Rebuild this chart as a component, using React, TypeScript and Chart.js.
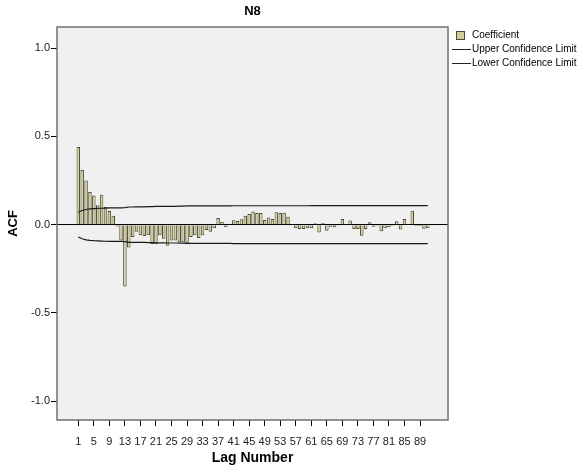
import { useEffect, useRef } from "react";
import { Chart, registerables } from "chart.js";

Chart.register(...registerables);

const lags = [
  1, 2, 3, 4, 5, 6, 7, 8, 9, 10, 11, 12, 13, 14, 15, 16, 17, 18, 19, 20,
  21, 22, 23, 24, 25, 26, 27, 28, 29, 30, 31, 32, 33, 34, 35, 36, 37, 38, 39, 40,
  41, 42, 43, 44, 45, 46, 47, 48, 49, 50, 51, 52, 53, 54, 55, 56, 57, 58, 59, 60,
  61, 62, 63, 64, 65, 66, 67, 68, 69, 70, 71, 72, 73, 74, 75, 76, 77, 78, 79, 80,
  81, 82, 83, 84, 85, 86, 87, 88, 89, 90, 91,
];

const coefficient = [
  0.44, 0.31, 0.25, 0.185, 0.165, 0.11, 0.17, 0.1, 0.077, 0.05,
  -0.01, -0.09, -0.35, -0.13, -0.07, -0.04, -0.06, -0.065, -0.06, -0.11,
  -0.11, -0.06, -0.08, -0.12, -0.09, -0.09, -0.1, -0.1, -0.105, -0.07,
  -0.06, -0.075, -0.06, -0.03, -0.04, -0.02, 0.038, 0.017, -0.015, 0.005,
  0.025, 0.02, 0.03, 0.05, 0.06, 0.075, 0.066, 0.066, 0.026, 0.04,
  0.032, 0.07, 0.066, 0.068, 0.045, -0.003, -0.02, -0.025, -0.025, -0.02,
  -0.02, 0.008, -0.045, 0.01, -0.035, -0.012, -0.015, -0.005, 0.032, 0.003,
  0.023, -0.025, -0.025, -0.063, -0.025, 0.013, -0.012, -0.006, -0.038, -0.02,
  -0.015, -0.006, 0.019, -0.028, 0.032, 0.004, 0.079, -0.008, -0.008, -0.023,
  -0.02,
];

const upperLimit = [
  0.07, 0.08, 0.086, 0.089, 0.091, 0.092, 0.093, 0.094, 0.095, 0.095,
  0.095, 0.095, 0.096, 0.1, 0.1, 0.101, 0.101, 0.101, 0.102, 0.102,
  0.103, 0.103, 0.103, 0.104, 0.104, 0.104, 0.105, 0.105, 0.106, 0.106,
  0.106, 0.106, 0.106, 0.106, 0.106, 0.106, 0.106, 0.106, 0.106, 0.106,
  0.107, 0.107, 0.107, 0.107, 0.107, 0.107, 0.107, 0.107, 0.107, 0.107,
  0.107, 0.107, 0.107, 0.107, 0.107, 0.107, 0.107, 0.107, 0.107, 0.107,
  0.108, 0.108, 0.108, 0.108, 0.108, 0.108, 0.108, 0.108, 0.108, 0.108,
  0.108, 0.108, 0.108, 0.108, 0.108, 0.108, 0.108, 0.108, 0.108, 0.108,
  0.108, 0.108, 0.108, 0.108, 0.108, 0.108, 0.108, 0.108, 0.108, 0.108,
  0.108,
];

const lowerLimit = [
  -0.07, -0.08, -0.086, -0.089, -0.091, -0.092, -0.093, -0.094, -0.095, -0.095,
  -0.095, -0.095, -0.096, -0.1, -0.1, -0.101, -0.101, -0.101, -0.102, -0.102,
  -0.103, -0.103, -0.103, -0.104, -0.104, -0.104, -0.105, -0.105, -0.106, -0.106,
  -0.106, -0.106, -0.106, -0.106, -0.106, -0.106, -0.106, -0.106, -0.106, -0.106,
  -0.107, -0.107, -0.107, -0.107, -0.107, -0.107, -0.107, -0.107, -0.107, -0.107,
  -0.107, -0.107, -0.107, -0.107, -0.107, -0.107, -0.107, -0.107, -0.107, -0.107,
  -0.108, -0.108, -0.108, -0.108, -0.108, -0.108, -0.108, -0.108, -0.108, -0.108,
  -0.108, -0.108, -0.108, -0.108, -0.108, -0.108, -0.108, -0.108, -0.108, -0.108,
  -0.108, -0.108, -0.108, -0.108, -0.108, -0.108, -0.108, -0.108, -0.108, -0.108,
  -0.108,
];

const xTickValues = [1, 5, 9, 13, 17, 21, 25, 29, 33, 37, 41, 45, 49, 53, 57, 61, 65, 69, 73, 77, 81, 85, 89];
const yTickValues = [-1, -0.5, 0, 0.5, 1];

const FONT = "'Liberation Sans', Arial, Helvetica, sans-serif";
const BAR_FILL = "#d2cc95";
const BAR_EDGE = "#4a4836";

const plotBox = {
  id: "plotBox",
  beforeDraw(chart: any) {
    const { ctx, chartArea: a } = chart;
    ctx.save();
    ctx.fillStyle = "#f0f0f0";
    ctx.fillRect(a.left, a.top, a.right - a.left, a.bottom - a.top);
    ctx.restore();
  },
  afterDraw(chart: any) {
    const { ctx, chartArea: a } = chart;
    ctx.save();
    ctx.strokeStyle = "#707070";
    ctx.lineWidth = 1.5;
    ctx.strokeRect(a.left, a.top, a.right - a.left, a.bottom - a.top);
    ctx.restore();
  },
};

export default function App() {
  const canvasRef = useRef<HTMLCanvasElement | null>(null);

  useEffect(() => {
    if (!canvasRef.current) return;
    const chart = new Chart(canvasRef.current, {
      type: "bar",
      data: {
        labels: lags,
        datasets: [
          {
            type: "line",
            label: "Upper Confidence Limit",
            data: upperLimit,
            borderColor: "#1a1a1a",
            borderWidth: 1.2,
            pointRadius: 0,
            fill: false,
            tension: 0,
            order: 1,
          } as any,
          {
            type: "line",
            label: "Lower Confidence Limit",
            data: lowerLimit,
            borderColor: "#1a1a1a",
            borderWidth: 1.2,
            pointRadius: 0,
            fill: false,
            tension: 0,
            order: 1,
          } as any,
          {
            type: "bar",
            label: "Coefficient",
            data: coefficient,
            backgroundColor: BAR_FILL,
            borderColor: BAR_EDGE,
            borderWidth: 1,
            barPercentage: 0.9,
            categoryPercentage: 1,
            order: 2,
          } as any,
        ],
      },
      options: {
        responsive: true,
        maintainAspectRatio: false,
        animation: false,
        layout: { padding: { top: 0, left: 0, right: 137, bottom: 0 } },
        plugins: {
          legend: { display: false },
          tooltip: { enabled: false },
          title: {
            display: true,
            text: "N8",
            fullSize: false,
            color: "#000",
            font: { family: FONT, size: 13, weight: "bold" },
            padding: { top: 4, bottom: 7.4 },
          },
        },
        scales: {
          x: {
            type: "linear",
            min: -4.485,
            max: 96.2,
            offset: false,
            border: { display: false },
            grid: {
              offset: false,
              drawOnChartArea: false,
              drawTicks: true,
              tickLength: 6,
              tickColor: "#000",
              tickWidth: 1,
            },
            afterBuildTicks: (scale: any) => {
              scale.ticks = xTickValues.map((v) => ({ value: v }));
            },
            afterFit: (scale: any) => {
              scale.height = 52;
            },
            ticks: {
              autoSkip: false,
              maxRotation: 0,
              minRotation: 0,
              padding: 9,
              color: "#222",
              font: { family: FONT, size: 11 },
              callback: (v: any) => String(v),
            },
            title: {
              display: true,
              text: "Lag Number",
              color: "#000",
              font: { family: FONT, size: 14, weight: "bold" },
              padding: { top: 0, bottom: 5.5 },
            },
          },
          y: {
            type: "linear",
            min: -1.107,
            max: 1.12,
            border: { display: false },
            grid: {
              drawOnChartArea: true,
              drawTicks: true,
              tickLength: 6,
              tickColor: "#000",
              lineWidth: 1,
              color: (ctx: any) =>
                ctx.tick && ctx.tick.value === 0 ? "#000" : "rgba(0,0,0,0)",
            },
            afterBuildTicks: (scale: any) => {
              scale.ticks = yTickValues.map((v) => ({ value: v }));
            },
            afterFit: (scale: any) => {
              scale.width = 57;
            },
            ticks: {
              padding: 1,
              color: "#222",
              font: { family: FONT, size: 11 },
              callback: (v: any) => Number(v).toFixed(1),
            },
            title: {
              display: true,
              text: "ACF",
              color: "#000",
              font: { family: FONT, size: 13, weight: "bold" },
              padding: { top: 6, bottom: 0 },
            },
          },
        },
      },
      plugins: [plotBox],
    });
    return () => chart.destroy();
  }, []);

  const textStyle: any = {
    position: "absolute",
    font: `10px ${FONT}`,
    lineHeight: "12px",
    color: "#000",
    whiteSpace: "nowrap",
  };

  return (
    <div style={{ position: "fixed", left: 0, top: 0, width: 585, height: 472, background: "#fff" }}>
      <canvas ref={canvasRef} />
      <div
        style={{
          position: "absolute",
          left: 456,
          top: 31,
          width: 9,
          height: 9,
          background: BAR_FILL,
          border: `1px solid ${BAR_EDGE}`,
          boxSizing: "border-box",
        }}
      />
      <div style={{ ...textStyle, left: 472, top: 29 }}>Coefficient</div>
      <div style={{ position: "absolute", left: 452, top: 49, width: 19, height: 0, borderTop: "1px solid #222" }} />
      <div style={{ ...textStyle, left: 472, top: 43 }}>Upper Confidence Limit</div>
      <div style={{ position: "absolute", left: 452, top: 63, width: 19, height: 0, borderTop: "1px solid #222" }} />
      <div style={{ ...textStyle, left: 472, top: 57 }}>Lower Confidence Limit</div>
    </div>
  );
}
